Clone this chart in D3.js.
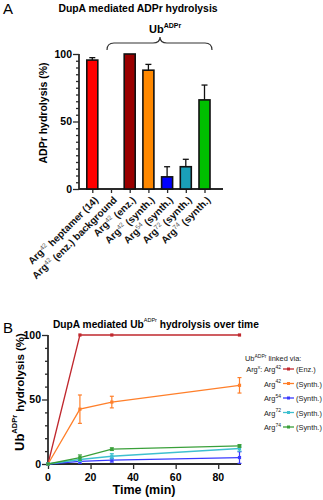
<!DOCTYPE html>
<html>
<head>
<meta charset="utf-8">
<script src="https://cdn.jsdelivr.net/npm/d3@7"></script>
<style>
  html, body { margin: 0; padding: 0; background: #fff; }
  svg { display: block; font-family: "Liberation Sans", Arial, sans-serif; }
</style>
</head>
<body>
<svg id="fig" width="323" height="500"></svg>
<script>
// ---- Panel A: end-point ADPr hydrolysis ----
const barSup    = ["42", "42", "42", "42", "54", "72", "74"];
const barSuffix = [" heptamer (14)", " (enz.) background", " (enz.)", " (synth.)", " (synth.)", " (synth.)", " (synth.)"];
const barValues = [95.5, 0, 100, 88, 9, 16.5, 66];
const barErrors = [1.8, 0, 0, 4.3, 7.5, 5.5, 11];
const barColors = ["#ff0000", "#ffffff", "#990000", "#ff8800", "#0000ff", "#1aa0b8", "#00c000"];
const ticksA    = [0, 50, 100];

// ---- Panel B: time course ----
const timePoints = [0, 15, 30, 90];
const seriesNames = ["Enz", "Arg42", "Arg54", "Arg72", "Arg74"];
const seriesValues = [
  [0, 100, 100, 100],
  [0, 42.5, 48, 61],
  [0, 2, 3, 5],
  [0, 3.5, 6, 12],
  [0, 5, 11.5, 14]
];
const seriesErrors = [
  [0, 0, 0, 0],
  [0, 11, 4.5, 6],
  [0, 1.5, 1.5, 4.5],
  [0, 1.5, 2, 2],
  [0, 2, 1, 1]
];
const seriesColors = ["#c0282e", "#ff7f2a", "#3a3aff", "#3ec0d0", "#3aa03a"];
const legendSup    = ["42", "42", "54", "72", "74"];
const legendTag    = ["(Enz.)", "(Synth.)", "(Synth.)", "(Synth.)", "(Synth.)"];
const ticksBx = [0, 20, 40, 60, 80];
const ticksBy = [0, 50, 100];

const svg = d3.select("#fig");
const axisColor = "#2a2a2a";

// ================= Panel A =================
svg.append("text").attr("x", 3).attr("y", 14).attr("font-size", 15).text("A");
svg.append("text").attr("x", 138).attr("y", 12).attr("text-anchor", "middle")
  .attr("font-size", 10.4).attr("font-weight", "bold").text("DupA mediated ADPr hydrolysis");

const yA = d3.scaleLinear().domain([0, 100]).range([189, 54]);
const xA = d3.scalePoint().domain(d3.range(barValues.length)).range([92.3, 204.5]);
const barW = 11;

// y axis with minor ticks every 5
const gYA = svg.append("g").attr("transform", "translate(79,0)");
gYA.call(d3.axisLeft(yA).tickValues(d3.range(0, 101, 5)).tickSize(3).tickFormat(""));
gYA.selectAll(".tick line").filter(d => d % 50 === 0).attr("x2", -6);
gYA.selectAll("text").remove();
gYA.select(".domain").attr("d", "M0," + yA(100) + "V" + yA(0));
gYA.selectAll("line, path").attr("stroke", axisColor).attr("stroke-width", 1.8);
gYA.selectAll(".tick line").attr("stroke-width", 1.3);
ticksA.forEach(t => {
  svg.append("text").attr("x", 72).attr("y", yA(t)).attr("dy", "0.35em")
    .attr("text-anchor", "end").attr("font-size", 10.5).attr("font-weight", "bold").text(t);
});

// x axis
const gXA = svg.append("g").attr("transform", "translate(0,189)");
gXA.call(d3.axisBottom(xA).tickSize(4).tickFormat(""));
gXA.select(".domain").attr("d", "M79,0H223");
gXA.selectAll("line, path").attr("stroke", axisColor).attr("stroke-width", 1.8);
gXA.selectAll(".tick line").attr("stroke-width", 1.3);

// bars
svg.append("g").selectAll("rect").data(barValues).join("rect")
  .attr("x", (d, i) => xA(i) - barW / 2)
  .attr("y", d => yA(d))
  .attr("width", barW)
  .attr("height", d => yA(0) - yA(d))
  .attr("fill", (d, i) => barColors[i])
  .attr("stroke", (d) => d > 0 ? "#111" : "none")
  .attr("stroke-width", 1.6);

// upward error bars
const errA = svg.append("g").attr("stroke", "#111").attr("stroke-width", 1.3);
barValues.forEach((v, i) => {
  if (barErrors[i] <= 0) return;
  const x = xA(i), y0 = yA(v), y1 = yA(v + barErrors[i]);
  errA.append("line").attr("x1", x).attr("x2", x).attr("y1", y0).attr("y2", y1);
  errA.append("line").attr("x1", x - 3).attr("x2", x + 3).attr("y1", y1).attr("y2", y1);
});

// rotated category labels
barValues.forEach((v, i) => {
  const t = svg.append("text")
    .attr("transform", `translate(${xA(i) + 3},197) rotate(-45)`)
    .attr("text-anchor", "end").attr("dy", "0.35em")
    .attr("font-size", 10).attr("font-weight", "bold").attr("fill", "#111");
  t.append("tspan").text("Arg");
  t.append("tspan").attr("dy", "-0.45em").attr("font-size", 6.5).attr("font-weight", "normal")
    .attr("fill", "#555").text(barSup[i]);
  t.append("tspan").attr("dy", "0.45em").text(barSuffix[i]);
});

// y axis title
svg.append("text").attr("transform", "translate(47,113) rotate(-90)")
  .attr("text-anchor", "middle").attr("font-size", 10.5).attr("font-weight", "bold")
  .text("ADPr hydrolysis (%)");

// brace over the Ub-conjugated samples
svg.append("path")
  .attr("d", "M107,50 Q107,43 114,43 L153,43 Q160,43 160,37 Q160,43 167,43 L205,43 Q212,43 212,50")
  .attr("fill", "none").attr("stroke", "#333").attr("stroke-width", 1.2);
const ubA = svg.append("text").attr("x", 149).attr("y", 33)
  .attr("font-size", 11).attr("font-weight", "bold");
ubA.append("tspan").text("Ub");
ubA.append("tspan").attr("dy", "-5").attr("font-size", 7).text("ADPr");

// ================= Panel B =================
svg.append("text").attr("x", 3).attr("y", 333).attr("font-size", 15).text("B");
const tB = svg.append("text").attr("x", 53).attr("y", 328)
  .attr("font-size", 10.2).attr("font-weight", "bold");
tB.append("tspan").text("DupA mediated Ub");
tB.append("tspan").attr("dy", "-6").attr("font-size", 5.5).attr("font-weight", "normal").text("ADPr");
tB.append("tspan").attr("dy", "6").text(" hydrolysis over time");

const xB = d3.scaleLinear().domain([0, 90]).range([48, 239.5]);
const yB = d3.scaleLinear().domain([0, 100]).range([464, 335]);

const gYB = svg.append("g").attr("transform", "translate(48,0)");
gYB.call(d3.axisLeft(yB).tickValues(d3.range(0, 101, 10)).tickSize(3).tickFormat(""));
gYB.selectAll(".tick line").filter(d => d % 50 === 0).attr("x2", -6);
gYB.select(".domain").attr("d", "M0," + yB(100) + "V" + yB(0));
gYB.selectAll("line, path").attr("stroke", axisColor).attr("stroke-width", 1.8);
gYB.selectAll(".tick line").attr("stroke-width", 1.3);
ticksBy.forEach(t => {
  svg.append("text").attr("x", 41).attr("y", yB(t)).attr("dy", "0.35em")
    .attr("text-anchor", "end").attr("font-size", 10.5).attr("font-weight", "bold").text(t);
});

const gXB = svg.append("g").attr("transform", `translate(0,${yB(0)})`);
gXB.call(d3.axisBottom(xB).tickValues(ticksBx).tickSize(5).tickFormat(""));
gXB.select(".domain").attr("d", "M48,0H241");
gXB.selectAll("line, path").attr("stroke", axisColor).attr("stroke-width", 1.8);
gXB.selectAll(".tick line").attr("stroke-width", 1.3);
ticksBx.forEach(t => {
  svg.append("text").attr("x", xB(t)).attr("y", 477).attr("dy", "0.35em")
    .attr("text-anchor", "middle").attr("font-size", 10.5).attr("font-weight", "bold").text(t);
});

svg.append("text").attr("x", 144).attr("y", 494).attr("text-anchor", "middle")
  .attr("font-size", 12.5).attr("font-weight", "bold").text("Time (min)");

const yTitleB = svg.append("text").attr("transform", "translate(24,451) rotate(-90)")
  .attr("font-weight", "bold");
yTitleB.append("tspan").attr("font-size", 13).text("Ub");
yTitleB.append("tspan").attr("dy", "-7").attr("font-size", 7.5).text("ADPr");
yTitleB.append("tspan").attr("dy", "7").attr("font-size", 11.5).text(" hydrolysis (%)");

// series lines, error bars, markers
const line = d3.line().x((d, i) => xB(timePoints[i])).y(d => yB(d));
seriesValues.forEach((vals, s) => {
  const g = svg.append("g");
  const c = seriesColors[s];
  g.append("path").attr("d", line(vals)).attr("fill", "none")
    .attr("stroke", c).attr("stroke-width", 1.3);
  vals.forEach((v, i) => {
    const e = seriesErrors[s][i];
    const x = xB(timePoints[i]);
    if (e > 0) {
      g.append("line").attr("x1", x).attr("x2", x).attr("y1", yB(v - e)).attr("y2", yB(v + e))
        .attr("stroke", c).attr("stroke-width", 1.2);
      [v - e, v + e].forEach(w => g.append("line").attr("x1", x - 2).attr("x2", x + 2)
        .attr("y1", yB(w)).attr("y2", yB(w)).attr("stroke", c).attr("stroke-width", 1.2));
    }
    g.append("rect").attr("x", x - 1.6).attr("y", yB(v) - 1.6).attr("width", 3.2).attr("height", 3.2)
      .attr("fill", c);
  });
});

// legend
const lg = svg.append("g").attr("font-size", 7.4).attr("fill", "#222");
const lh = lg.append("text").attr("x", 245).attr("y", 361);
lh.append("tspan").text("Ub");
lh.append("tspan").attr("dy", "-3.5").attr("font-size", 5).text("ADPr");
lh.append("tspan").attr("dy", "3.5").text(" linked via:");
const rowY = [372, 386.5, 401, 415.5, 430];
seriesNames.forEach((n, s) => {
  const y = rowY[s];
  const t = lg.append("text").attr("x", 281).attr("y", y).attr("text-anchor", "end");
  if (s === 0) {
    t.append("tspan").text("Arg");
    t.append("tspan").attr("dy", "-3.5").attr("font-size", 5).text("x");
    t.append("tspan").attr("dy", "3.5").text(": Arg");
  } else {
    t.append("tspan").text("Arg");
  }
  t.append("tspan").attr("dy", "-3.5").attr("font-size", 5).text(legendSup[s]);
  lg.append("line").attr("x1", 283).attr("x2", 294).attr("y1", y - 3).attr("y2", y - 3)
    .attr("stroke", seriesColors[s]).attr("stroke-width", 1.3);
  lg.append("rect").attr("x", 287).attr("y", y - 4.5).attr("width", 3).attr("height", 3)
    .attr("fill", seriesColors[s]);
  lg.append("text").attr("x", 296).attr("y", y).text(legendTag[s]);
});
</script>
</body>
</html>
